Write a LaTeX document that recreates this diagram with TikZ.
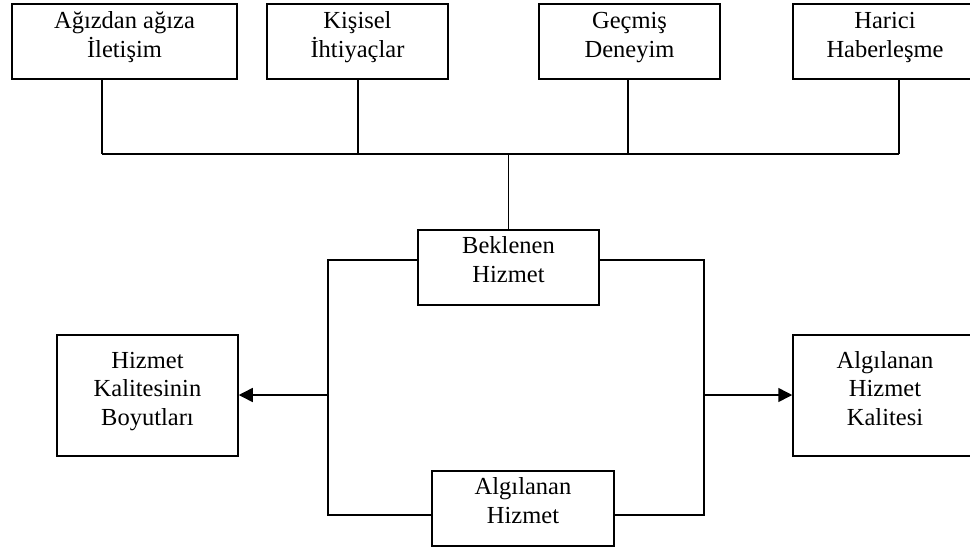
\documentclass[tikz,border=0pt]{standalone}
\usepackage{fontspec}
\setmainfont{Liberation Serif}
\usetikzlibrary{arrows.meta}
\begin{document}
\begin{tikzpicture}[x=1pt,y=-1pt,
  box/.style={draw,line width=1.5pt,inner sep=0pt,minimum width=#1},
  box/.default=181,
  txt/.style={anchor=base,align=center,inner sep=0pt,
    font=\fontsize{24.5}{28.3}\selectfont},
  link/.style={line width=1.5pt},
  arr/.style={line width=1.5pt,-{Triangle[length=14pt,width=14pt]}}]
\useasboundingbox (0,0) rectangle (970,550);
\clip (0,0) rectangle (970,550);

% upper row of sources (text placed by the baseline of its last line)
\node[box=225,minimum height=75] (agiz) at (124.5,41.5) {};
\node[box=181,minimum height=75] (kisi) at (357.5,41.5) {};
\node[box=181,minimum height=75] (gecm) at (629.5,41.5) {};
\node[box=184,minimum height=75] (hari) at (885,41.5) {};
\node[txt] (tagiz) at (124.5,57) {Ağızdan ağıza\\İletişim};
\node[txt] (tkisi) at (357.5,57) {Kişisel\\İhtiyaçlar};
\node[txt] (tgecm) at (629.5,57) {Geçmiş\\Deneyim};
\node[txt] (thari) at (885,57) {Harici\\Haberleşme};

% middle column
\node[box=181,minimum height=75] (bekl) at (508.5,267.5) {};
\node[txt] (tbekl) at (508.5,282) {Beklenen\\Hizmet};
\node[box=182,minimum height=75] (algh) at (523,508.5) {};
\node[txt] (talgh) at (523,523) {Algılanan\\Hizmet};

% side boxes
\node[box=181,minimum height=121] (boyu) at (147.5,395.5) {};
\node[txt] (tboyu) at (147.5,425) {Hizmet\\Kalitesinin\\Boyutları};
\node[box=184,minimum height=121] (kali) at (885,395.5) {};
\node[txt] (tkali) at (885,425) {Algılanan\\Hizmet\\Kalitesi};

% junction points
\coordinate (bus1) at (102,154);
\coordinate (bus2) at (358,154);
\coordinate (bus3) at (628,154);
\coordinate (bus4) at (899,154);
\coordinate (lt) at (328,260);
\coordinate (lb) at (328,515);
\coordinate (lm) at (328,395);
\coordinate (rt) at (704,260);
\coordinate (rb) at (704,515);
\coordinate (rm) at (704,395);

% collecting bus into the expected service
\draw[link] (bus1 |- agiz.south) -- (bus1);
\draw[link] (bus2 |- kisi.south) -- (bus2);
\draw[link] (bus3 |- gecm.south) -- (bus3);
\draw[link] (bus4 |- hari.south) -- (bus4);
\draw[link] (bus1) -- (bus4);
\draw[link] (bekl.north |- bus1) -- (bekl.north);

% comparison loops
\draw[link] (lt -| bekl.west) -- (lt) -- (lb) -- (lb -| algh.west);
\draw[link] (rt -| bekl.east) -- (rt) -- (rb) -- (rb -| algh.east);
\draw[arr] (lm) -- (lm -| boyu.east);
\draw[arr] (rm) -- (rm -| kali.west);
\end{tikzpicture}
\end{document}
